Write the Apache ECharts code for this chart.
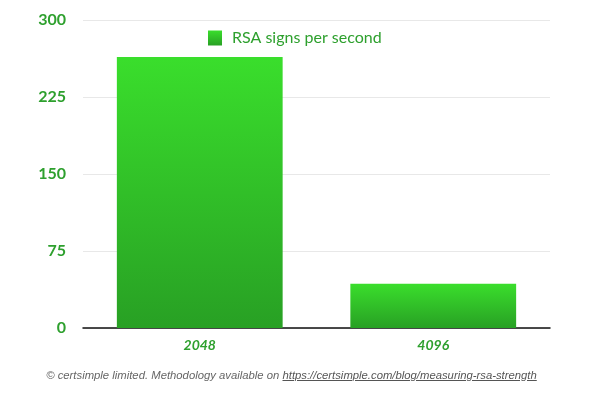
<!DOCTYPE html>
<html lang="en">
  <head>
    <meta charset="UTF-8" />
    <script src="https://cdn.jsdelivr.net/npm/echarts@6/dist/echarts.min.js"></script>
    <title>RSA signs per second</title>
    <style>
      body { margin: 0; background: #fff; }
      #container { width: 589px; height: 411px; position: relative; }
      #footer {
        position: absolute; left: -3px; width: 589px; top: 369px;
        text-align: center; font: italic 11.3px "Liberation Sans", Arial, sans-serif; color: #666;
      }
      #footer a { color: #555; text-decoration: underline; }
    </style>
  </head>
  <body>
    <div id="container"></div>
    <div id="footer">© certsimple limited. Methodology available on <a href="#">https://certsimple.com/blog/measuring-rsa-strength</a></div>

    <script>
      const keySizes = ["2048", "4096"];
      const signsPerSecond = [264, 43];
      const yTicks = [0, 75, 150, 225, 300];

      const green = "#2ea02e";
      const barFill = new echarts.graphic.LinearGradient(0, 0, 0, 1, [
        { offset: 0, color: "#3ade2c" },
        { offset: 1, color: "#28a024" },
      ]);

      const myChart = echarts.init(document.getElementById("container"));

      const option = {
        animation: false,
        textStyle: { fontFamily: "Lato" },
        grid: { left: 83, right: 39, top: 20, bottom: 83 },
        legend: {
          left: 203,
          top: 25,
          itemWidth: 14,
          itemHeight: 15,
          icon: "rect",
          textStyle: { color: green, fontSize: 16, fontFamily: "Lato", padding: [0, 0, 0, 5] },
          data: ["RSA signs per second"],
        },
        xAxis: {
          type: "category",
          data: keySizes,
          axisLine: { lineStyle: { color: "#111", width: 1.5 } },
          axisTick: { show: false },
          axisLabel: {
            color: green,
            fontSize: 14,
            fontWeight: "bold",
            fontStyle: "italic",
            margin: 10,
          },
        },
        yAxis: {
          type: "value",
          min: yTicks[0],
          max: yTicks[yTicks.length - 1],
          interval: 75,
          axisLine: { show: false },
          axisTick: { show: false },
          splitLine: { lineStyle: { color: "#e8e8e8" } },
          axisLabel: {
            color: green,
            fontSize: 16,
            fontWeight: "bold",
            margin: 17,
          },
        },
        series: [
          {
            name: "RSA signs per second",
            type: "bar",
            data: signsPerSecond,
            barWidth: "71%",
            itemStyle: { color: barFill },
          },
        ],
      };

      myChart.setOption(option);
    </script>
  </body>
</html>
